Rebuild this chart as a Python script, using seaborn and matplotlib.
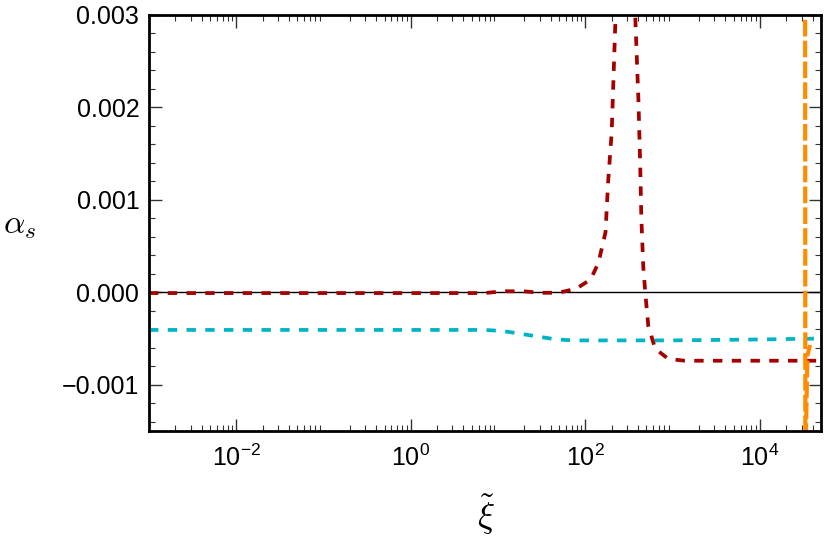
import numpy as np
import matplotlib
matplotlib.use("Agg")
import matplotlib.pyplot as plt
import matplotlib.ticker as mticker
import seaborn as sns

# red curve (pole near xi ~ 300)
red_xi = [1e-3, 1e-2, 1e-1, 1.0, 7.0, 11.5, 20.0, 31.0, 49.0, 79.0, 115.0, 141.0,
          170.0, 182.0, 200.0, 209.0, 220.0, 240.0, 300.0, 350.0, 372.0, 405.0,
          425.0, 437.0, 460.0, 485.0, 525.0, 630.0, 890.0, 1380.0, 5e3, 5e4]
red_alpha = [-0.000008, -0.000008, -0.000008, -0.000008, -0.000008, 0.000012,
             0.00001, -0.000005, -0.000005, 0.00004, 0.00014, 0.00032, 0.00065,
             0.00119, 0.00173, 0.00227, 0.0029, 0.006, 0.02, 0.006, 0.003, 0.00208,
             0.00136, 0.00082, 0.00028, 0.0, -0.00036, -0.00061, -0.00072,
             -0.00074, -0.00074, -0.00074]

# cyan curve
cyan_xi = [1e-3, 1e-2, 1e-1, 1.0, 7.2, 11.5, 18.5, 29.0, 47.0, 73.0, 100.0,
           1e3, 1e4, 5e4]
cyan_alpha = [-0.000407, -0.000407, -0.000407, -0.000407, -0.000407, -0.00042,
              -0.00045, -0.00048, -0.00051, -0.00052, -0.00052, -0.00052,
              -0.00051, -0.0005]

# orange curve (two branches around the pole near xi ~ 3.3e4)
orange1_xi = [3.25e4, 3.29e4, 3.32e4, 3.35e4]
orange1_alpha = [0.02, 0.004, -0.004, -0.02]
orange2_xi = [3.33e4, 3.35e4, 3.5e4, 3.75e4]
orange2_alpha = [-0.02, -0.0016, -0.00068, -0.00057]

xtick_pos = [1e-2, 1.0, 1e2, 1e4]
xtick_labels = ["$10^{-2}$", "$10^{0}$", "$10^{2}$", "$10^{4}$"]
ytick_pos = [-0.001, 0.0, 0.001, 0.002, 0.003]
ytick_labels = ["\u22120.001", "0.000", "0.001", "0.002", "0.003"]

sns.set_style("ticks")
plt.rcParams["font.family"] = ["Liberation Sans", "DejaVu Sans"]
plt.rcParams["mathtext.fontset"] = "custom"
plt.rcParams["mathtext.rm"] = "Liberation Sans"
plt.rcParams["mathtext.it"] = "Liberation Sans:italic"

fig = plt.figure(figsize=(8.26, 5.43), dpi=100)
ax = fig.add_axes([0.1804, 0.2063, 0.8135, 0.7661])

ax.axhline(0, color="black", lw=1.0, zorder=1)

dash = (0, (2.5, 2.5))
sns.lineplot(x=cyan_xi, y=cyan_alpha, ax=ax, color="#00b4c4", lw=2.7,
             linestyle=dash, sort=False)
sns.lineplot(x=red_xi, y=red_alpha, ax=ax, color="#a50000", lw=2.7,
             linestyle=dash, sort=False)
sns.lineplot(x=orange1_xi, y=orange1_alpha, ax=ax, color="#ff8c00", lw=3.0,
             linestyle=(0, (4.0, 1.0)), sort=False)
sns.lineplot(x=orange2_xi, y=orange2_alpha, ax=ax, color="#ff8c00", lw=3.0,
             linestyle=(0, (4.0, 1.0)), sort=False)

ax.set_xscale("log")
ax.set_xlim(1e-3, 5e4)
ax.set_ylim(-0.0015, 0.003)

ax.xaxis.set_minor_locator(mticker.LogLocator(base=10, subs=np.arange(2, 10), numticks=20))
ax.xaxis.set_minor_formatter(mticker.NullFormatter())
ax.set_xticks(xtick_pos)
ax.set_xticklabels(xtick_labels)
ax.set_yticks(ytick_pos)
ax.set_yticklabels(ytick_labels)
ax.yaxis.set_minor_locator(mticker.MultipleLocator(0.0002))

ax.tick_params(which="both", direction="in", top=True, right=True, color="#333333")
ax.tick_params(which="major", length=9, width=1.0, labelsize=18, labelcolor="black")
ax.tick_params(which="minor", length=4.5, width=0.8)
ax.tick_params(axis="x", which="major", pad=10)
ax.tick_params(axis="y", which="major", pad=7)

for s in ax.spines.values():
    s.set_linewidth(2.0)
    s.set_color("black")

ax.set_xlabel(r"$\tilde{\xi}$", fontsize=26, math_fontfamily="cm", color="black")
ax.xaxis.set_label_coords(0.501, -0.148)
ax.set_ylabel(r"$\alpha_s$", fontsize=24, math_fontfamily="cm", rotation=0,
              ha="center", va="center", color="black")
ax.yaxis.set_label_coords(-0.193, 0.495)

fig.savefig("out.png", dpi=100)
